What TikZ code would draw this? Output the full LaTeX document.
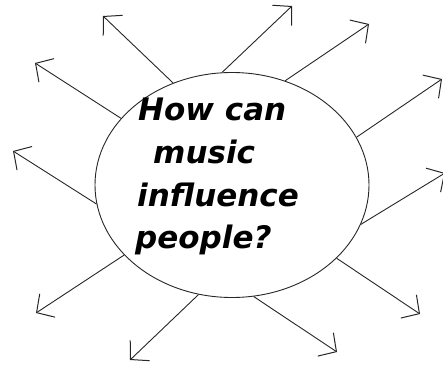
\documentclass[tikz,border=0pt]{standalone}
\usepackage{fontspec}
\setmainfont{DejaVu Sans}
\usetikzlibrary{shapes.geometric,arrows.meta}
\tikzset{
  ray/.style={draw=black!85, line width=0.9pt, -{Straight Barb[length=13pt,width=28pt,line width=1pt]}},
  qline/.style={anchor=base west, inner sep=0pt, font=\fontsize{31}{31}\selectfont\bfseries\itshape},
  bubble/.style={ellipse, draw=black!85, line width=0.9pt, minimum width=274pt, minimum height=225pt, inner sep=0pt}
}
\begin{document}
\begin{tikzpicture}[x=1pt,y=-1pt]
\useasboundingbox (0,0) rectangle (443,364);
\node[bubble] (c) at (232,185) {};
\node[qline] (l1) at (138,120) {How can};
\node[qline] (l2) at (153,163) {music};
\node[qline] (l3) at (137,206) {influence};
\node[qline] (l4) at (135,248) {people?};
\coordinate (t1) at (103,16);
\coordinate (t2) at (292,6);
\coordinate (t3) at (369,24);
\coordinate (t4) at (442,79);
\coordinate (t5) at (35,63);
\coordinate (t6) at (13,151);
\coordinate (t7) at (445,173);
\coordinate (t8) at (36,313);
\coordinate (t9) at (130,360);
\coordinate (t10) at (337,352);
\coordinate (t11) at (420,314);
\draw[ray] (c.120) -- (t1);
\draw[ray] (c.95) -- (t2);
\draw[ray] (c.63) -- (t3);
\draw[ray] (c.21) -- (t4);
\draw[ray] (c.149) -- (t5);
\draw[ray] (c.188) -- (t6);
\draw[ray] (c.-17) -- (t7);
\draw[ray] (c.213) -- (t8);
\draw[ray] (c.253) -- (t9);
\draw[ray] (c.281) -- (t10);
\draw[ray] (c.-35) -- (t11);
\end{tikzpicture}
\end{document}
